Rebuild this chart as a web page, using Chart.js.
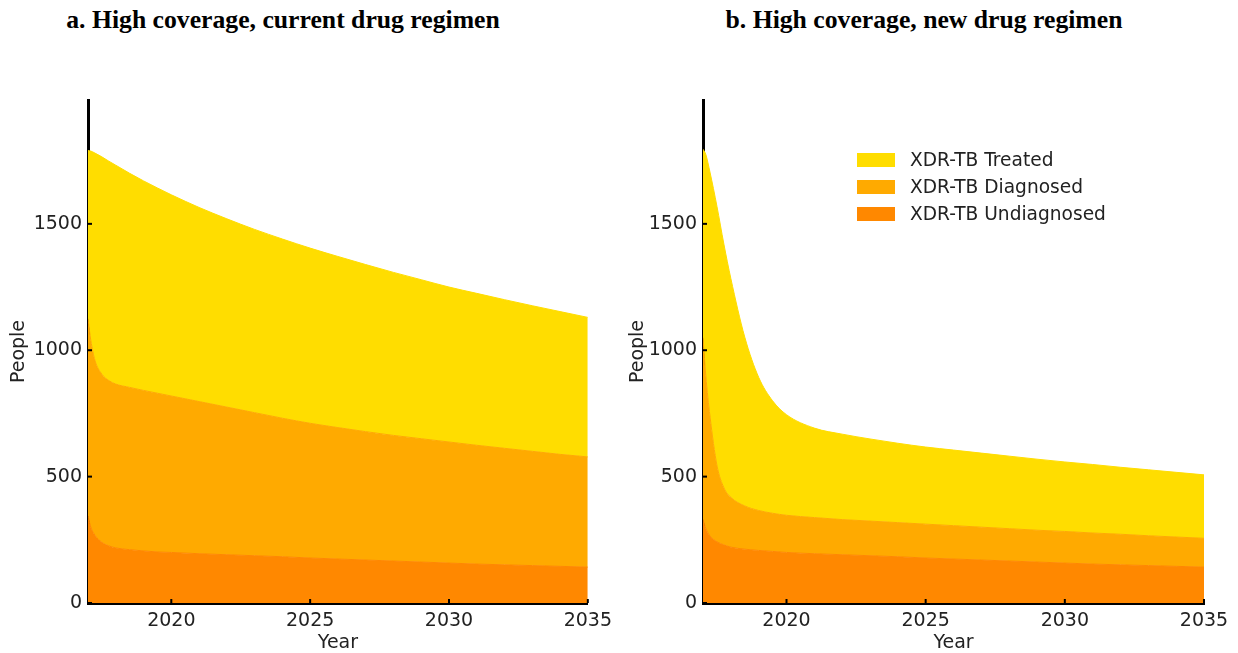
<!DOCTYPE html>
<html><head><meta charset="utf-8">
<script src="https://cdn.jsdelivr.net/npm/chart.js@4/dist/chart.umd.min.js"></script>
<style>
html,body{margin:0;padding:0;background:#fff;width:1238px;height:653px;overflow:hidden;position:relative}
.wrap{position:absolute;top:0;width:619px;height:653px}
.title{position:absolute;top:5px;font:bold 25.7px "Liberation Serif",serif;line-height:30px;color:#000;white-space:nowrap;transform:translateX(-50%)}
.legend{position:absolute;left:857px;top:146px;font:18.6px "DejaVu Sans",sans-serif;color:#222}
.legend .row{height:27px;display:flex;align-items:center}
.legend .box{width:38px;height:14px;margin-right:15px;display:inline-block}
</style></head>
<body>
<div class="title" style="left:283px">a. High coverage, current drug regimen</div>
<div class="title" style="left:924px">b. High coverage, new drug regimen</div>
<div class="wrap" style="left:0"><canvas id="cA" width="619" height="653"></canvas></div>
<div class="wrap" style="left:619px"><canvas id="cB" width="619" height="653"></canvas></div>
<div class="legend" id="legend"></div>
<script>
const years = [2017, 2017.1, 2017.25, 2017.5, 2017.75, 2018, 2018.5, 2019, 2019.5, 2020, 2021, 2022, 2023, 2024, 2025, 2026, 2027, 2028, 2029, 2030, 2031, 2032, 2033, 2034, 2035];
const seriesNames = ['XDR-TB Treated', 'XDR-TB Diagnosed', 'XDR-TB Undiagnosed'];
const seriesColors = ['#FFDD00', '#FFAA00', '#FF8800'];
const xTickValues = [2020, 2025, 2030, 2035];
const yTickValues = [0, 500, 1000, 1500];

// Panel a: current drug regimen
const undiagA = [345, 300, 268, 240, 226, 218, 211, 206, 202, 200, 195, 191, 187, 183, 178, 174, 170, 166, 162, 158, 154, 151, 148, 145, 142];
const diagA   = [780, 740, 692, 665, 654, 648, 642, 635, 628, 619, 602, 584, 566, 548, 533, 520, 508, 497, 488, 479, 470, 461, 452, 443, 436];
const treatA  = [665, 748, 820, 860, 868, 866, 847, 829, 812, 796, 768, 745, 725, 709, 693, 677, 661, 645, 629, 613, 601, 588, 576, 565, 552];

// Panel b: new drug regimen
const undiagB = [330, 295, 265, 242, 230, 221, 213, 208, 204, 200, 195, 191, 187, 183, 178, 174, 170, 166, 162, 158, 154, 151, 148, 145, 142];
const diagB   = [720, 605, 475, 303, 226, 197, 171, 158, 151, 147, 143, 139, 137, 135, 134, 132, 130, 128, 126, 125, 123, 121, 118, 116, 114];
const treatB  = [745, 875, 965, 1025, 964, 866, 668, 527, 445, 398, 354, 338, 325, 314, 305, 299, 293, 287, 281, 275, 271, 265, 261, 256, 251];

const FONT = {family:'"DejaVu Sans", sans-serif', size:19};
const TFONT = {family:'"DejaVu Sans", sans-serif', size:19, lineHeight:1};
const TXT = '#222';

const inwardTicks = {
  id:'inwardTicks',
  afterDraw(chart){
    const {ctx, scales:{x,y}, chartArea:a} = chart;
    ctx.save();
    ctx.strokeStyle = '#000';
    ctx.lineWidth = 2;
    x.ticks.forEach(t => {
      const px = x.getPixelForValue(t.value);
      ctx.beginPath(); ctx.moveTo(px, a.bottom); ctx.lineTo(px, a.bottom - 4); ctx.stroke();
    });
    y.ticks.forEach(t => {
      const py = y.getPixelForValue(t.value);
      ctx.beginPath(); ctx.moveTo(a.left, py); ctx.lineTo(a.left + 4, py); ctx.stroke();
    });
    ctx.restore();
  }
};

function pts(arr){ return years.map((yr, i) => ({x: yr, y: arr[i]})); }

function makeChart(id, und, dia, tre, axisW, padRight){
  const sets = [
    {label: seriesNames[2], data: pts(und), backgroundColor: seriesColors[2], borderColor: seriesColors[2], fill: 'origin'},
    {label: seriesNames[1], data: pts(dia), backgroundColor: seriesColors[1], borderColor: seriesColors[1], fill: '-1'},
    {label: seriesNames[0], data: pts(tre), backgroundColor: seriesColors[0], borderColor: seriesColors[0], fill: '-1'}
  ];
  new Chart(document.getElementById(id), {
    type: 'line',
    data: {datasets: sets},
    options: {
      responsive: false, animation: false,
      layout: {padding: {top: 100, right: padRight, left: 0, bottom: 0}},
      plugins: {legend: {display: false}, tooltip: {enabled: false}},
      elements: {point: {radius: 0}, line: {borderWidth: 1, cubicInterpolationMode: 'monotone'}},
      scales: {
        x: {
          type: 'linear', min: 2017, max: 2035, z: 1,
          afterBuildTicks: s => { s.ticks = xTickValues.map(v => ({value: v})); },
          afterFit: s => { s.height = 50; },
          grid: {display: false, drawTicks: false},
          border: {display: true, color: '#000', width: 3},
          ticks: {font: FONT, color: TXT, padding: 7, maxRotation: 0, autoSkip: false, callback: v => String(v)},
          title: {display: true, text: 'Year', font: TFONT, color: TXT, padding: {top: 0, bottom: 0}}
        },
        y: {
          stacked: true, min: 0, max: 1990, z: 1,
          afterBuildTicks: s => { s.ticks = yTickValues.map(v => ({value: v})); },
          afterFit: s => { s.width = axisW; },
          grid: {display: false, drawTicks: false},
          border: {display: true, color: '#000', width: 3},
          ticks: {font: FONT, color: TXT, padding: 6, callback: v => String(v)},
          title: {display: true, text: 'People', font: FONT, color: TXT, padding: {top: 8, bottom: 0}}
        }
      }
    },
    plugins: [inwardTicks]
  });
}

makeChart('cA', undiagA, diagA, treatA, 88, 31);
makeChart('cB', undiagB, diagB, treatB, 84, 34);

const lg = document.getElementById('legend');
seriesNames.forEach((n, i) => {
  const r = document.createElement('div'); r.className = 'row';
  const b = document.createElement('span'); b.className = 'box'; b.style.background = seriesColors[i];
  const t = document.createElement('span'); t.textContent = n;
  r.appendChild(b); r.appendChild(t); lg.appendChild(r);
});
</script>
</body></html>
